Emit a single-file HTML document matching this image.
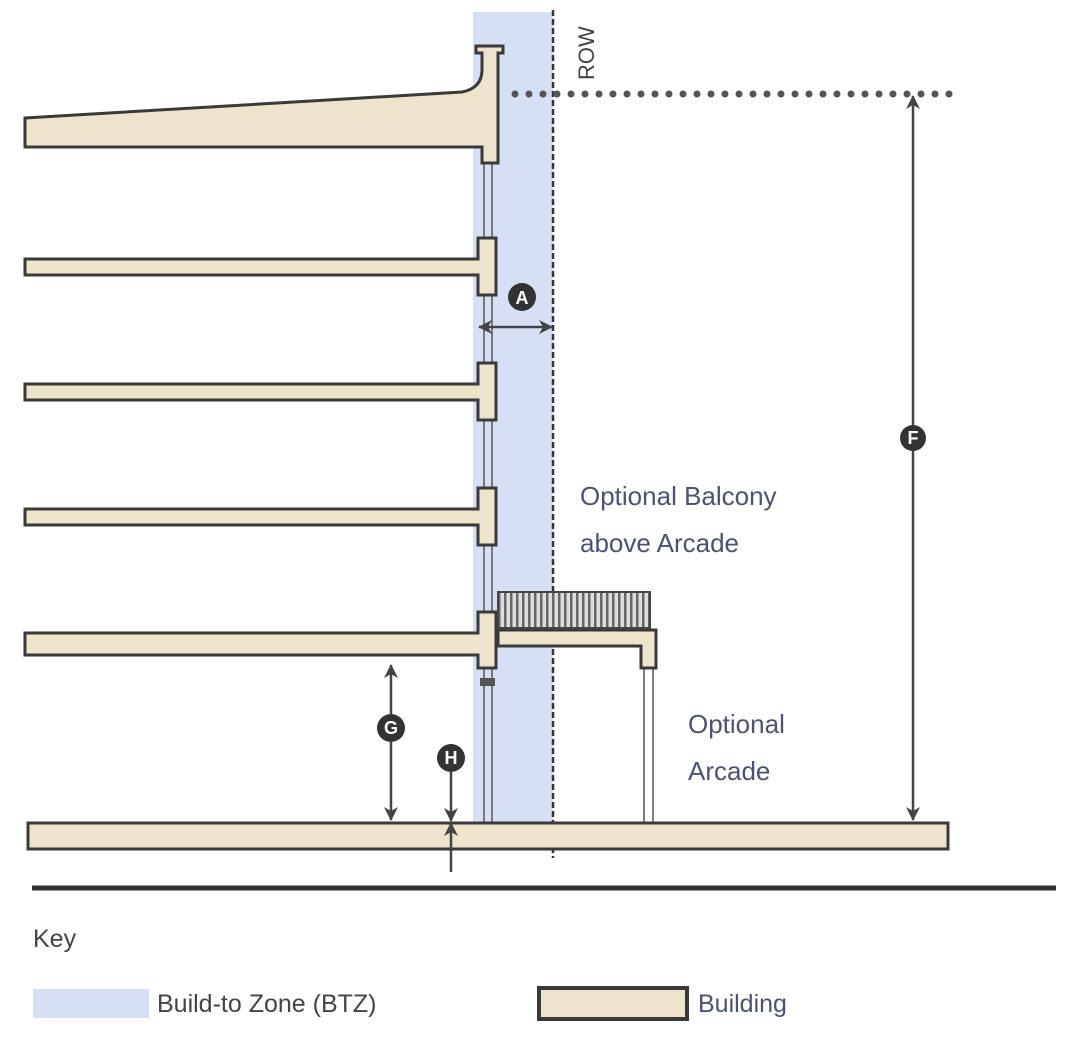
<!DOCTYPE html>
<html><head><meta charset="utf-8"><style>
html,body{margin:0;padding:0;background:#fff;}
svg{display:block;}
text{font-family:"Liberation Sans",sans-serif;}
</style></head><body>
<svg width="1089" height="1048" viewBox="0 0 1089 1048" xmlns="http://www.w3.org/2000/svg">
<defs>
<marker id="ah" markerWidth="14" markerHeight="14" refX="13" refY="7" orient="auto" markerUnits="userSpaceOnUse"><path d="M0,0 L14,7 L0,14 L4,7 z" fill="#444"/></marker>
<pattern id="rail" width="6" height="36" patternUnits="userSpaceOnUse"><rect width="6" height="36" fill="#ddd"/><rect x="0" width="2.5" height="36" fill="#666"/></pattern>
</defs>
<rect x="473" y="12" width="80" height="813" fill="#d7dff5"/>
<line x1="553" y1="10" x2="553" y2="858" stroke="#333" stroke-width="2.5" stroke-dasharray="6,3"/>
<text transform="translate(594,80) rotate(-90)" font-size="22" fill="#444">ROW</text>
<line x1="515" y1="94" x2="962" y2="94" stroke="#555" stroke-width="7" stroke-linecap="round" stroke-dasharray="0,14"/>
<g stroke="#555" stroke-width="1.5">
<line x1="484" y1="160" x2="484" y2="822"/><line x1="492" y1="160" x2="492" y2="822"/>
<line x1="644" y1="668" x2="644" y2="822"/><line x1="653" y1="668" x2="653" y2="822"/>
</g>
<g fill="#ede4cb" stroke="#3a3a3a" stroke-width="3">
<path d="M25,118 L462,92 Q482,88 482,70 L482,53 L476,53 L476,46 L503,46 L503,53 L498,53 L498,163 L482,163 L482,147 L25,147 Z"/>
<path d="M25,259 L478,259 L478,238 L496,238 L496,295 L478,295 L478,275 L25,275 Z"/>
<path d="M25,384 L478,384 L478,363 L496,363 L496,420 L478,420 L478,400 L25,400 Z"/>
<path d="M25,509 L478,509 L478,488 L496,488 L496,545 L478,545 L478,525 L25,525 Z"/>
<path d="M25,633 L478,633 L478,612 L496,612 L496,668 L478,668 L478,655 L25,655 Z"/>
<path d="M498,630 L656,630 L656,668 L641,668 L641,646 L498,646 Z"/>
<rect x="28" y="823" width="920" height="26"/>
</g>
<rect x="480" y="678" width="15" height="8" fill="#555"/>
<rect x="498" y="592" width="152" height="36" fill="url(#rail)" stroke="#444" stroke-width="2"/>
<line x1="32" y1="888" x2="1056" y2="888" stroke="#333" stroke-width="5"/>
<g stroke="#444" stroke-width="2.5" fill="none">
<line x1="913" y1="449" x2="913" y2="820" marker-end="url(#ah)"/>
<line x1="913" y1="426" x2="913" y2="96" marker-end="url(#ah)"/>
<line x1="515" y1="327" x2="479" y2="327" marker-end="url(#ah)"/>
<line x1="515" y1="327" x2="552" y2="327" marker-end="url(#ah)"/>
<line x1="391" y1="714" x2="391" y2="665" marker-end="url(#ah)"/>
<line x1="391" y1="742" x2="391" y2="820" marker-end="url(#ah)"/>
<line x1="451" y1="772" x2="451" y2="821" marker-end="url(#ah)"/>
<line x1="451" y1="872" x2="451" y2="823" marker-end="url(#ah)"/>
</g>
<g fill="#333">
<circle cx="522" cy="297" r="14"/><circle cx="913" cy="438" r="13"/>
<circle cx="391" cy="728" r="14"/><circle cx="451" cy="758" r="14"/>
</g>
<g fill="#fff" font-size="18" font-weight="bold" text-anchor="middle">
<text x="522" y="304">A</text><text x="913" y="444">F</text>
<text x="391" y="734">G</text><text x="451" y="764">H</text>
</g>
<g fill="#4d5270" font-size="26">
<text x="580" y="505">Optional Balcony</text>
<text x="580" y="552">above Arcade</text>
<text x="688" y="733">Optional</text>
<text x="688" y="780">Arcade</text>
</g>
<text x="33" y="947" font-size="25" fill="#444">Key</text>
<rect x="33" y="989" width="116" height="29" fill="#d7dff5"/>
<text x="157" y="1012" font-size="25" fill="#444">Build-to Zone (BTZ)</text>
<rect x="539" y="988" width="148" height="31" fill="#ede4cb" stroke="#3a3a3a" stroke-width="4"/>
<text x="698" y="1012" font-size="25" fill="#4d5270">Building</text>
</svg>
</body></html>
